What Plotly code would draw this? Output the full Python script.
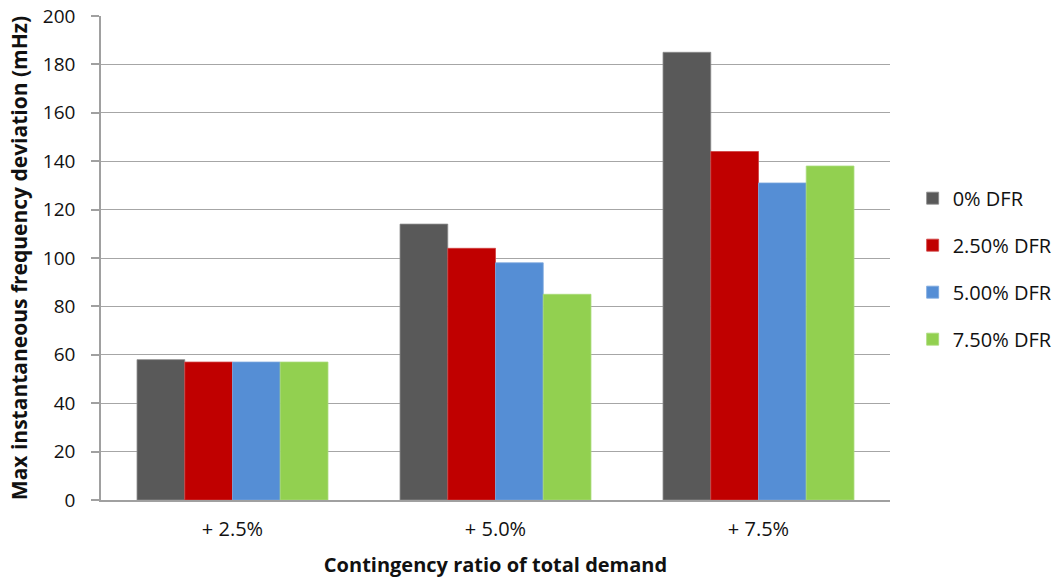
import plotly.graph_objects as go

categories = ["+ 2.5%", "+ 5.0%", "+ 7.5%"]
series_names = ["0% DFR", "2.50% DFR", "5.00% DFR", "7.50% DFR"]
dfr_0 = [58, 114, 185]
dfr_250 = [57, 104, 144]
dfr_500 = [57, 98, 131]
dfr_750 = [57, 85, 138]
y_ticks = [0, 20, 40, 60, 80, 100, 120, 140, 160, 180, 200]

colors = ["#595959", "#C00000", "#558ED5", "#92D050"]
lines = ["#8a8a8a", "#d04040", "#7aa6dd", "#a8da78"]

FONT = "Open Sans"

fig = go.Figure()
for i, (name, vals) in enumerate(zip(series_names, [dfr_0, dfr_250, dfr_500, dfr_750])):
    fig.add_trace(go.Bar(
        x=categories, y=vals, name=name, legendgroup=name,
        marker=dict(color=colors[i], line=dict(color=lines[i], width=0.8)),
    ))

fig.update_layout(
    width=1060, height=581,
    margin=dict(l=101, r=170, t=16, b=81),
    paper_bgcolor="white", plot_bgcolor="white",
    barmode="group", bargap=0.274, bargroupgap=0,
    showlegend=True,
    legend=dict(
        xref="container", x=0.861, y=0.478, xanchor="left", yanchor="middle",
        font=dict(family=FONT, size=20, color="#111111"),
        tracegroupgap=18, traceorder="grouped",
        itemwidth=30,
    ),
    xaxis=dict(
        automargin=False,
        showline=True, linecolor="#a0a0a0", linewidth=1.5,
        ticks="", ticklabelstandoff=10,
        tickfont=dict(family=FONT, size=20, color="#111111"),
        title=dict(text="<b>Contingency ratio of total demand</b>",
                   font=dict(family=FONT, size=20, color="#111111"),
                   standoff=17),
    ),
    yaxis=dict(
        automargin=False,
        range=[0, 200], tickvals=y_ticks,
        showline=True, linecolor="#a0a0a0", linewidth=1.5,
        ticks="outside", ticklen=8, tickcolor="#a0a0a0", tickwidth=1.5,
        ticklabelstandoff=12,
        showgrid=True, gridcolor="#a6a6a6", gridwidth=1.3,
        tickfont=dict(family=FONT, size=19, color="#111111"),
        title=dict(text="<b>Max instantaneous frequency deviation (mHz)</b>",
                   font=dict(family=FONT, size=21, color="#111111"),
                   standoff=10),
        zeroline=False,
    ),
)

fig.write_html("out.html", config={"displayModeBar": False},
               post_script="document.body.style.margin='0';")
